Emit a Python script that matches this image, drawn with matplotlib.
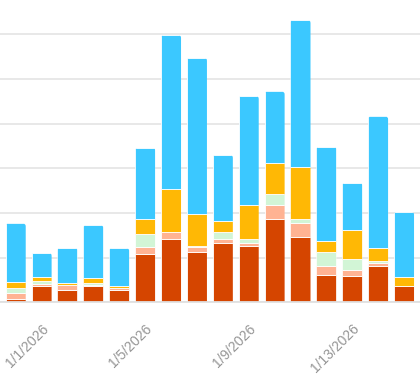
import matplotlib
matplotlib.use('Agg')
import matplotlib.pyplot as plt
from matplotlib.patches import FancyBboxPatch

# dates on the x axis, 12/31/2025 .. 1/15/2026
dates = ['12/31/2025'] + ['1/%d/2026' % d for d in range(1, 16)]

# stacked series, bottom to top
s_orange = [0.7, 3.7, 2.8, 3.7, 2.8, 10.8, 14.2, 11.2, 13.2, 12.7, 18.7, 14.6, 6.1, 5.8, 8.2, 3.7]
s_salmon = [1.4, 0.5, 1.0, 0.25, 0.5, 1.5, 1.6, 1.1, 1.0, 0.55, 3.0, 3.15, 2.1, 1.5, 0.55, 0]
s_green = [1.1, 0.5, 0, 0.4, 0, 3.0, 0, 0.4, 1.5, 1.0, 2.55, 1.0, 3.0, 2.5, 0.5, 0]
s_yellow = [1.4, 0.9, 0.5, 1.0, 0.45, 3.45, 9.6, 7.0, 2.55, 7.6, 7.0, 11.6, 2.6, 6.5, 3.0, 2.0]
s_blue = [13.1, 5.5, 7.9, 11.95, 8.4, 15.9, 34.5, 35.1, 14.8, 24.4, 16.0, 32.9, 21.05, 10.5, 29.4, 14.6]

series = [s_orange, s_salmon, s_green, s_yellow, s_blue]
colors = ['#d54500', '#ffb393', '#d2f5d6', '#ffb805', '#3bc8ff']

fig = plt.figure(figsize=(4.2, 3.81), dpi=100)
ax = fig.add_axes([0, 0.2066, 1, 0.7934])

x = list(range(len(dates)))
width = 0.775
bottom = [0.0] * len(dates)
groups = []
for vals, col in zip(series, colors):
    bars = ax.bar(x, vals, width, bottom=bottom, color=col,
                  edgecolor='white', linewidth=0.6, zorder=2)
    groups.append(bars)
    bottom = [b + v for b, v in zip(bottom, vals)]

ax.set_xlim(-0.606, 15.617)
ax.set_ylim(0, 67.7)

# rounded top corners: clip each stack to a rounded box
aspect = (1 / 4.467) / (1 / 25.89)
for i, total in enumerate(bottom):
    clip = FancyBboxPatch((i - width / 2, -5), width, total + 5,
                          boxstyle='round,pad=0,rounding_size=0.12',
                          mutation_aspect=aspect, transform=ax.transData,
                          facecolor='none', edgecolor='none')
    for bars in groups:
        bars[i].set_clip_path(clip)

ax.set_yticks(range(0, 70, 10))
ax.yaxis.grid(True, color='#e6e6e6', linewidth=1.3)
ax.set_axisbelow(True)
ax.tick_params(axis='y', left=False, labelleft=False)

ax.set_xticks(x[1::4])
ax.set_xticklabels(dates[1::4], rotation=45, ha='right', va='top',
                   rotation_mode='anchor', color='#959595', fontsize=10,
                   family='Liberation Sans')
ax.tick_params(axis='x', length=0, pad=14)

for s in ['top', 'right', 'left']:
    ax.spines[s].set_visible(False)
ax.spines['bottom'].set_color('#e0e0e0')
ax.spines['bottom'].set_linewidth(1.3)

fig.savefig('out.png', dpi=100)
plt.close(fig)
